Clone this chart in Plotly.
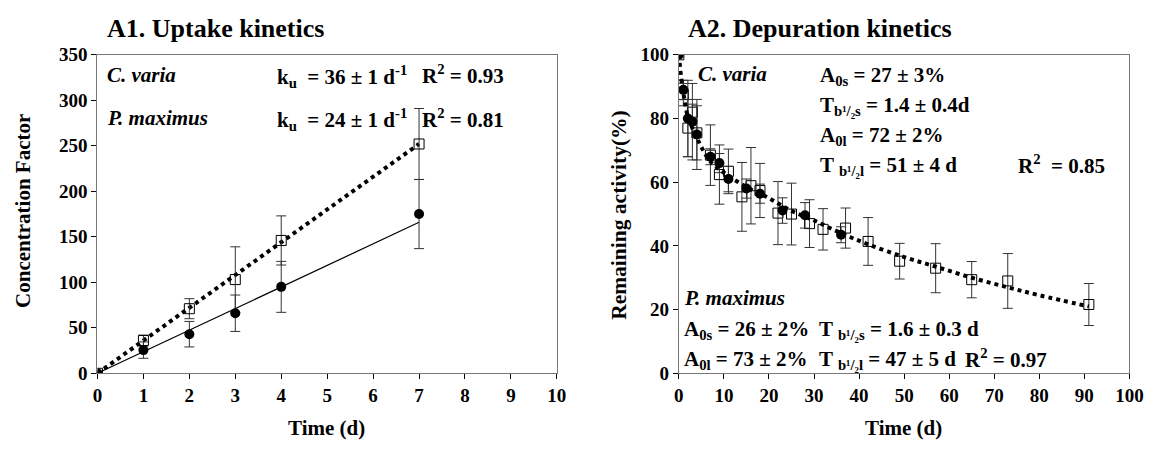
import plotly.graph_objects as go

# ---------------- Data: A1 uptake ----------------
up_t = [0, 1, 2, 3, 4, 7]
cv_up_v = [0, 36, 71, 103, 146, 252]
cv_up_err = [0, 6, 11, 36, 27, 39]
pm_up_v = [0, 25.5, 43, 66, 95, 175]
pm_up_err = [0, 9, 14, 20, 28, 38]
cv_up_fit_t = [0, 7]
cv_up_fit_v = [0, 252]
pm_up_fit_t = [0, 7]
pm_up_fit_v = [0, 166]

# ---------------- Data: A2 depuration ----------------
cv_dep_t = [0, 1, 2, 3, 4, 7, 9, 11, 14, 16, 18, 22, 25, 29, 32, 37, 42, 49, 57, 65, 73, 91]
cv_dep_v = [100, 87.5, 77, 82, 75.5, 68.5, 62.4, 63.4, 55.4, 58.9, 57.4, 50.3, 50, 47, 45.2, 45.6,
            41.4, 35.2, 33, 29.4, 29, 21.6]
cv_dep_err = [0, 3.5, 9, 2.5, 8.5, 9.5, 9.3, 7, 10.8, 12, 8.5, 9.9, 9.7, 7.5, 6.5, 6.3,
              7.5, 5.6, 7.7, 5.7, 8.6, 6.6]
pm_dep_t = [0, 1, 2, 3, 4, 7, 9, 11, 15, 18, 23, 28, 36]
pm_dep_v = [100, 89, 80, 79, 75, 68, 66, 61, 58, 56.4, 51.1, 49.6, 43.5]
pm_dep_err = [0, 3, 12, 12, 11, 2.5, 3, 4, 3, 3, 4, 4, 2.5]
dep_fit_t = [0, 0.5, 1, 1.5, 2, 3, 4, 5, 7, 10, 15, 20, 25, 30, 36, 42, 50, 57, 65, 73, 80, 91]
dep_fit_v = [100, 93, 88, 84, 80.5, 77, 74, 71, 66.5, 63, 58.5, 55, 51, 48, 44, 40.5, 36.5, 33.5,
             30, 27, 24.5, 21]

FONT = "Times New Roman, Liberation Serif, DejaVu Serif, serif"
W, H = 1168, 452

fig = go.Figure()

errstyle = dict(type="data", thickness=1, width=5, color="#333333", visible=True)

# A1 lines
fig.add_trace(go.Scatter(x=cv_up_fit_t, y=cv_up_fit_v, mode="lines",
                         line=dict(color="black", width=4, dash="dot"), xaxis="x", yaxis="y"))
fig.add_trace(go.Scatter(x=pm_up_fit_t, y=pm_up_fit_v, mode="lines",
                         line=dict(color="black", width=1.2), xaxis="x", yaxis="y"))
# A1 markers
fig.add_trace(go.Scatter(x=up_t, y=cv_up_v, mode="markers",
                         error_y=dict(array=cv_up_err, **errstyle),
                         marker=dict(symbol="square-open", size=10, color="black", line=dict(width=1)),
                         xaxis="x", yaxis="y"))
fig.add_trace(go.Scatter(x=up_t, y=pm_up_v, mode="markers",
                         error_y=dict(array=pm_up_err, **errstyle),
                         marker=dict(symbol="circle", size=10, color="black"),
                         xaxis="x", yaxis="y"))

# A2
fig.add_trace(go.Scatter(x=cv_dep_t, y=cv_dep_v, mode="markers",
                         error_y=dict(array=cv_dep_err, **errstyle),
                         marker=dict(symbol="square-open", size=10, color="black", line=dict(width=1)),
                         xaxis="x2", yaxis="y2"))
fig.add_trace(go.Scatter(x=pm_dep_t, y=pm_dep_v, mode="markers",
                         error_y=dict(array=pm_dep_err, **errstyle),
                         marker=dict(symbol="circle", size=10, color="black"),
                         xaxis="x2", yaxis="y2"))
fig.add_trace(go.Scatter(x=dep_fit_t, y=dep_fit_v, mode="lines", line_shape="spline",
                         line=dict(color="black", width=4, dash="dot"), xaxis="x2", yaxis="y2"))

ydom = [1 - 381 / H, 1 - 47 / H]
axis_common = dict(showline=True, mirror=True, linecolor="#777777", linewidth=1.3,
                   ticks="outside", ticklen=5, tickcolor="black", showgrid=False, zeroline=False,
                   tickfont=dict(family=FONT, size=19, color="black", weight="bold"))
fig.update_layout(
    width=W, height=H, margin=dict(l=0, r=0, t=0, b=0),
    paper_bgcolor="white", plot_bgcolor="white", showlegend=False,
    font=dict(family=FONT, color="black"),
    xaxis=dict(domain=[94 / W, 561 / W], range=[0, 10], dtick=1, anchor="y", **axis_common),
    yaxis=dict(domain=ydom, range=[0, 350], dtick=50, anchor="x", **axis_common),
    xaxis2=dict(domain=[685 / W, 1143 / W], range=[0, 100], dtick=10, anchor="y2", **axis_common),
    yaxis2=dict(domain=ydom, range=[0, 100], dtick=20, anchor="x2", **axis_common),
)

ann = []
def txt(x, y, s, size=21, xref="paper", yref="paper", xanchor="left", angle=0):
    ann.append(dict(x=x, y=y, xref=xref, yref=yref, text=s, showarrow=False, xanchor=xanchor,
                    align="left" if xanchor == "left" else "center", borderpad=0,
                    yanchor="middle", textangle=angle, font=dict(family=FONT, size=size, color="black")))

# panel titles
txt(103 / W, 1 - 19 / H, "<b>A1. Uptake kinetics</b>", size=26)
txt(693 / W, 1 - 19 / H, "<b>A2. Depuration kinetics</b>", size=26)
# axis titles
txt(327 / W, 1 - 438 / H, "<b>Time (d)</b>", size=21, xanchor="center")
txt(913 / W, 1 - 438 / H, "<b>Time (d)</b>", size=21, xanchor="center")
txt(19 / W, 1 - 211 / H, "<b>Concentration Factor</b>", size=21, xanchor="center", angle=-90)
txt(624 / W, 1 - 215 / H, "<b>Remaining activity(%)</b>", size=21.5, xanchor="center", angle=-90)

# A1 annotations
txt(0.19, 328, "<b><i>C. varia</i></b>", xref="x", yref="y")
txt(3.88, 326, "<b>k<sub>u</sub>  = 36 ± 1 d<sup>-1</sup></b>", xref="x", yref="y")
txt(7.04, 328, "<b>R<sup>2</sup> = 0.93</b>", xref="x", yref="y")
txt(0.19, 280.5, "<b><i>P. maximus</i></b>", xref="x", yref="y")
txt(3.88, 278.5, "<b>k<sub>u</sub>  = 24 ± 1 d<sup>-1</sup></b>", xref="x", yref="y")
txt(7.04, 280.5, "<b>R<sup>2</sup> = 0.81</b>", xref="x", yref="y")

# A2 annotations
txt(4.0, 94.1, "<b><i>C. varia</i></b>", xref="x2", yref="y2")
txt(31.2, 93.4, "<b>A<sub>0s</sub> = 27 ± 3%</b>", xref="x2", yref="y2")
txt(31.2, 83.9, "<b>T<sub>b¹/₂s</sub> = 1.4 ± 0.4d</b>", xref="x2", yref="y2")
txt(31.2, 74.4, "<b>A<sub>0l</sub> = 72 ± 2%</b>", xref="x2", yref="y2")
txt(31.2, 65.0, "<b>T <sub>b¹/₂l</sub> = 51 ± 4 d</b>", xref="x2", yref="y2")
txt(75.0, 65.7, "<b>R<sup>2</sup>  = 0.85</b>", xref="x2", yref="y2")
txt(0.9, 23.7, "<b><i>P. maximus</i></b>", xref="x2", yref="y2")
txt(0.9, 13.6, "<b>A<sub>0s</sub> = 26 ± 2%</b>", xref="x2", yref="y2")
txt(30.9, 13.6, "<b>T <sub>b¹/₂s</sub> = 1.6 ± 0.3 d</b>", xref="x2", yref="y2")
txt(0.9, 4.1, "<b>A<sub>0l</sub> = 73 ± 2%</b>", xref="x2", yref="y2")
txt(30.9, 4.1, "<b>T <sub>b¹/₂l</sub> = 47 ± 5 d</b>", xref="x2", yref="y2")
txt(63.3, 4.8, "<b>R<sup>2</sup> = 0.97</b>", xref="x2", yref="y2")

fig.update_layout(annotations=ann)
fig.write_html(
    "out.html",
    config={"displayModeBar": False},
    post_script=("document.body.style.margin='0';"
                 "document.body.style.overflow='hidden';"
                 "document.documentElement.style.overflow='hidden';"),
)
